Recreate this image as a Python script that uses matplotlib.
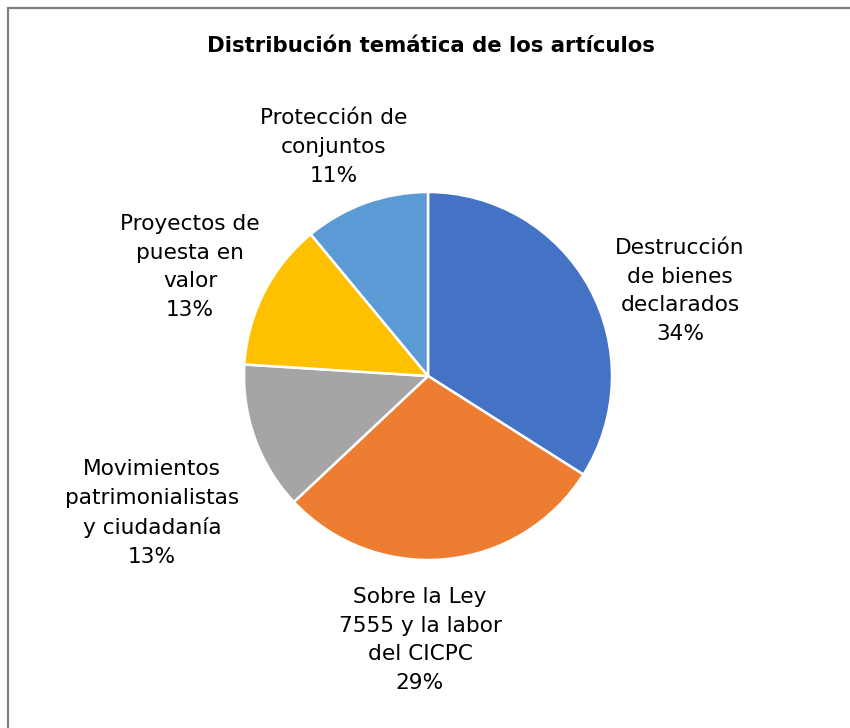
import matplotlib
matplotlib.use('Agg')
import matplotlib.pyplot as plt

topics = ['Destrucción\nde bienes\ndeclarados',
          'Sobre la Ley\n7555 y la labor\ndel CICPC',
          'Movimientos\npatrimonialistas\ny ciudadanía',
          'Proyectos de\npuesta en\nvalor',
          'Protección de\nconjuntos']
shares = [34, 29, 13, 13, 11]
colors = ['#4472C4', '#ED7D31', '#A5A5A5', '#FFC000', '#5B9BD5']

# label anchor points in pixel space (x, y from top)
label_pos = [(680, 291), (420, 640), (152, 513), (190, 267), (334, 147)]

W, H = 850, 728
fig = plt.figure(figsize=(W / 100, H / 100), dpi=100)
ax = fig.add_axes([0, 0, 1, 1])

ax.pie(shares, colors=colors, startangle=90, counterclock=False,
       center=(428, H - 376), radius=184, frame=True,
       wedgeprops=dict(edgecolor='white', linewidth=1.8))
ax.set_xlim(0, W)
ax.set_ylim(0, H)
ax.set_aspect('equal')
ax.axis('off')

for name, val, (x, y) in zip(topics, shares, label_pos):
    ax.text(x, H - y, name + '\n' + str(val) + '%', ha='center', va='center',
            fontsize=15.6, linespacing=1.55, color='#000000')

ax.text(431, H - 46, 'Distribución temática de los artículos', ha='center',
        va='center', fontsize=15.3, fontweight='bold')

# chart area border (only top and left edges fall inside the image)
ax.plot([8, 8, W + 5], [-5, H - 8, H - 8], color='#808080', lw=1.6,
        solid_joinstyle='miter')

plt.savefig('out.png', dpi=100)
